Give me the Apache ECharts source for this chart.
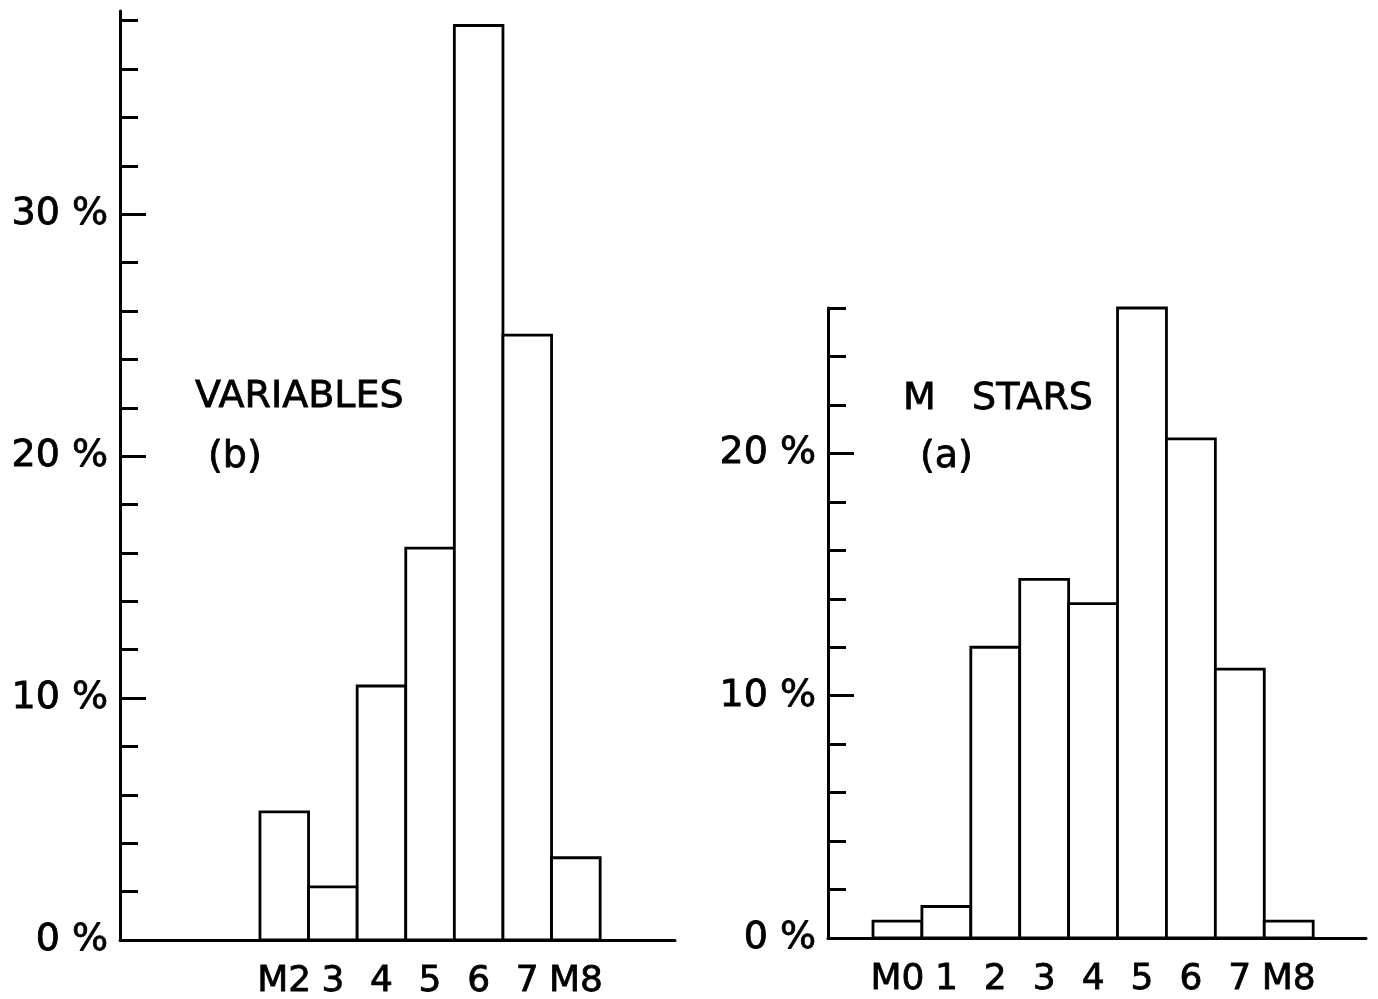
<!DOCTYPE html>
<html>
<head>
<meta charset="utf-8">
<script src="https://cdn.jsdelivr.net/npm/echarts@6.0.0/dist/echarts.min.js"></script>
<style>
html,body{margin:0;padding:0;background:#fff}
#main{width:1378px;height:999px}
</style>
</head>
<body>
<div id="main"></div>
<script>
// 左图 VARIABLES (b)
let leftTypes = [2, 3, 4, 5, 6, 7, 8]
let leftLabels = ['M2', '3', '4', '5', '6', '7', 'M8']
let leftValues = [5.3, 2.2, 10.5, 16.2, 37.8, 25.0, 3.4]
let leftMajorTicks = [0, 10, 20, 30]
let leftMinorTicks = [0, 2, 4, 6, 8, 10, 12, 14, 16, 18, 20, 22, 24, 26, 28, 30, 32, 34, 36, 38]

// 右图 M STARS (a)
let rightTypes = [0, 1, 2, 3, 4, 5, 6, 7, 8]
let rightLabels = ['M0', '1', '2', '3', '4', '5', '6', '7', 'M8']
let rightValues = [0.7, 1.3, 12.0, 14.8, 13.8, 26.0, 20.6, 11.1, 0.7]
let rightMajorTicks = [0, 10, 20]
let rightMinorTicks = [0, 2, 4, 6, 8, 10, 12, 14, 16, 18, 20, 22, 24, 26]

let font = 'DejaVu Sans'

// 画一个直方图的柱子
function drawBar(params, api){
    let x = api.value(0)
    let y = api.value(1)
    let p1 = api.coord([x - 0.5, y])
    let p2 = api.coord([x + 0.5, 0])
    return {
        type:'rect',
        shape:{x:p1[0], y:p1[1], width:p2[0] - p1[0], height:p2[1] - p1[1]},
        style:{fill:'#fff', stroke:'#000', lineWidth:2.8}
    }
}

function makeX(gridIndex, min, max, types, labels){
    return {
        type:'value',
        gridIndex:gridIndex,
        min:min,
        max:max,
        axisLine:{show:true, onZero:false, lineStyle:{color:'#000', width:3}},
        axisTick:{show:false},
        splitLine:{show:false},
        axisLabel:{
            customValues:types,
            margin:24,
            color:'#000',
            fontSize:36,
            fontFamily:font,
            textBorderColor:'#000',
            textBorderWidth:0.8,
            formatter:function(v){ return labels[types.indexOf(v)] }
        }
    }
}

// 每个网格两条y轴: 一条画短刻度和标签, 一条画长刻度
function makeY(gridIndex, max, major, minor){
    return [{
        type:'value',
        gridIndex:gridIndex,
        position:'left',
        min:0,
        max:max,
        axisLine:{show:true, onZero:false, lineStyle:{color:'#000', width:3}},
        axisTick:{show:true, inside:true, length:18, customValues:minor, lineStyle:{color:'#000', width:3}},
        splitLine:{show:false},
        axisLabel:{
            customValues:major,
            margin:12,
            color:'#000',
            fontSize:38,
            fontFamily:font,
            textBorderColor:'#000',
            textBorderWidth:0.8,
            formatter:function(v){ return v + ' %' }
        }
    }, {
        type:'value',
        gridIndex:gridIndex,
        position:'left',
        offset:0,
        min:0,
        max:max,
        axisLine:{show:false, onZero:false},
        axisTick:{show:true, inside:true, length:26, customValues:major, lineStyle:{color:'#000', width:3}},
        splitLine:{show:false},
        axisLabel:{show:false}
    }]
}

function pairs(types, values){
    return types.map(function(t, i){ return [t, values[i]] })
}

function note(x, y, text){
    return {
        type:'text', x:x, y:y,
        style:{text:text, fill:'#000', font:'38px "DejaVu Sans"', verticalAlign:'middle', stroke:'#000', lineWidth:0.8}
    }
}

function chart(){
    let box = document.querySelector('#main')
    let myChart = echarts.init(box)
    let option = {
        backgroundColor:'#fff',
        animation:false,
        grid:[
            {left:120, top:11, width:555, height:929, containLabel:false, outerBoundsMode:'none'},
            {left:828, top:308, width:538, height:630, containLabel:false, outerBoundsMode:'none'}
        ],
        xAxis:[
            makeX(0, -1.38, 10.04, leftTypes, leftLabels),
            makeX(1, -1.42, 9.58, rightTypes, rightLabels)
        ],
        yAxis:makeY(0, 38.4, leftMajorTicks, leftMinorTicks).concat(makeY(1, 26, rightMajorTicks, rightMinorTicks)),
        series:[
            {
                type:'custom',
                xAxisIndex:0,
                yAxisIndex:0,
                renderItem:drawBar,
                encode:{x:0, y:1},
                data:pairs(leftTypes, leftValues)
            },
            {
                type:'custom',
                xAxisIndex:1,
                yAxisIndex:2,
                renderItem:drawBar,
                encode:{x:0, y:1},
                data:pairs(rightTypes, rightValues)
            }
        ],
        graphic:[
            note(195, 397, 'VARIABLES'),
            note(208, 457, '(b)'),
            note(903, 399, 'M   STARS'),
            note(920, 457, '(a)')
        ]
    }
    myChart.setOption(option)
}
chart()
</script>
</body>
</html>
